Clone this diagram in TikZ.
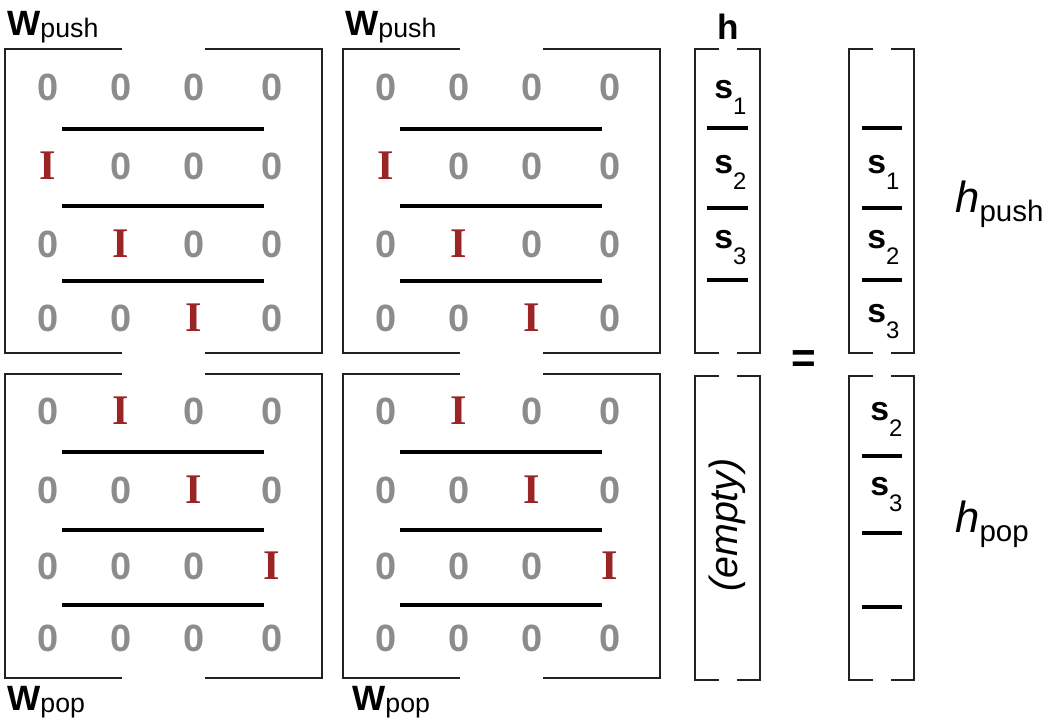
\documentclass[tikz,border=0pt]{standalone}
\usepackage{fontspec}
\setmainfont{Liberation Sans}
\newfontfamily\identfont{Liberation Serif}
\usetikzlibrary{positioning}
\definecolor{zerogray}{HTML}{8C8C8C}
\definecolor{identred}{HTML}{9B2424}
\definecolor{inkdark}{HTML}{222222}
\newcommand\stackel[1]{\textbf{s}\raisebox{-12pt}{\fontsize{17}{17}\selectfont #1}}

\begin{document}
\begin{tikzpicture}[x=0.025cm, y=-0.025cm, zero/.style={text=zerogray, inner sep=0pt, font=\fontsize{27}{29}\selectfont\bfseries}, ident/.style={text=identred, inner sep=0pt, font=\fontsize{30}{32}\selectfont\identfont\bfseries}, bracket/.style={draw=inkdark, line width=1.5pt}, rowsep/.style={draw=black, line width=2.2pt}, stackel/.style={anchor=base west, inner sep=0pt, font=\fontsize{24}{26}\selectfont}, wlabel/.style={anchor=base west, inner sep=0pt, font=\fontsize{25}{27}\selectfont\bfseries}]
\useasboundingbox (0,0) rectangle (1047,726);
% matrix brackets
\foreach \xl/\xr/\gl/\gr in {5/322/122/205, 343/660/460/543}{
  \draw[bracket] (\gl,49) -| (\xl,353) -- (\gl,353);
  \draw[bracket] (\gr,49) -| (\xr,353) -- (\gr,353);
  \draw[bracket] (\gl,374) -| (\xl,678) -- (\gl,678);
  \draw[bracket] (\gr,374) -| (\xr,678) -- (\gr,678);
}
% vector brackets
\foreach \xl/\xr/\gl/\gr in {695/760/719/737, 849/914/873/891}{
  \draw[bracket] (\gl,49) -| (\xl,353) -- (\gl,353);
  \draw[bracket] (\gr,49) -| (\xr,353) -- (\gr,353);
  \draw[bracket] (\gl,376) -| (\xl,680) -- (\gl,680);
  \draw[bracket] (\gr,376) -| (\xr,680) -- (\gr,680);
}
% entries of W_push and W_pop
\foreach \m/\ox in {a/0, b/338}{
  \foreach \r/\y/\yp in {1/87/411, 2/166/490, 3/244/566, 4/318/638}{
    \foreach \c/\x in {1/48, 2/121, 3/194, 4/272}{
      \pgfmathtruncatemacro\dd{\r-\c}
      \ifnum\dd=1 \node[ident] (push\m\r\c) at (\x+\ox,\y) {I};
      \else \node[zero] (push\m\r\c) at (\x+\ox,\y) {0};\fi
      \ifnum\dd=-1 \node[ident] (pop\m\r\c) at (\x+\ox,\yp) {I};
      \else \node[zero] (pop\m\r\c) at (\x+\ox,\yp) {0};\fi
    }
  }
  \foreach \y in {129,206,281,452,530,605}
    \draw[rowsep] (62+\ox,\y) -- (264+\ox,\y);
}
\node[wlabel] (wpusha) at (7,35) {W\raisebox{-2pt}{\mdseries\fontsize{19}{21}\selectfont push}};
\node[wlabel] (wpushb) at (345,35) {W\raisebox{-2pt}{\mdseries\fontsize{19}{21}\selectfont push}};
\node[wlabel] (wpopa) at (7,710) {W\raisebox{-2pt}{\mdseries\fontsize{19}{21}\selectfont pop}};
\node[wlabel] (wpopb) at (352,710) {W\raisebox{-2pt}{\mdseries\fontsize{19}{21}\selectfont pop}};
% stack vector h
\node[wlabel] (hlabel) at (717,39) {h};
\foreach \y in {128,208,280} \draw[rowsep] (707,\y) -- (748,\y);
\node[stackel] (hs1) at (714,98) {\stackel{1}};
\node[stackel] (hs2) at (714,173) {\stackel{2}};
\node[stackel] (hs3) at (714,248) {\stackel{3}};
\node[rotate=90, inner sep=0pt, font=\fontsize{28}{30}\selectfont\itshape] (empty) at (727,525) {(empty)};
\node[inner sep=0pt, font=\fontsize{30}{30}\selectfont\bfseries] (eq) at (804,362) {=};
% results
\foreach \y in {128,208,280,456,533,607} \draw[rowsep] (862,\y) -- (902,\y);
\node[stackel] (rs1) at (867,173) {\stackel{1}};
\node[stackel] (rs2) at (867,248) {\stackel{2}};
\node[stackel] (rs3) at (867,322) {\stackel{3}};
\node[stackel] (ps2) at (870,420) {\stackel{2}};
\node[stackel] (ps3) at (870,495) {\stackel{3}};
\node[anchor=base west, inner sep=0pt, font=\fontsize{31}{33}\selectfont] (hpush) at (955,212) {\textit{h}\raisebox{-7pt}{\fontsize{21}{23}\selectfont push}};
\node[anchor=base west, inner sep=0pt, font=\fontsize{31}{33}\selectfont] (hpop) at (955,532) {\textit{h}\raisebox{-7pt}{\fontsize{21}{23}\selectfont pop}};
\end{tikzpicture}
\end{document}
